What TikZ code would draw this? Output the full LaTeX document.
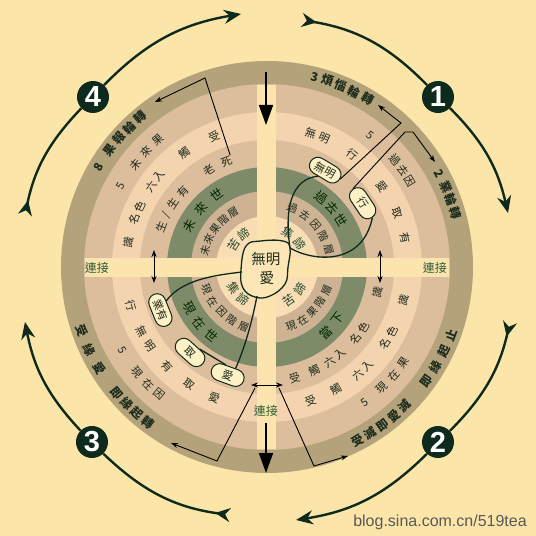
\documentclass[tikz,border=0pt]{standalone}
\usepackage{fontspec}
\newfontfamily\cjk{Noto Sans CJK TC}
\newfontfamily\lsans{Liberation Sans}
\usetikzlibrary{arrows.meta,shapes.misc,calc}
\definecolor{bg}{HTML}{FCE5A9}
\definecolor{ringo}{HTML}{B4A27B}
\definecolor{tanr}{HTML}{DCBD9C}
\definecolor{peach}{HTML}{F4D3AF}
\definecolor{dgreen}{HTML}{7E8B69}
\definecolor{taupe}{HTML}{CDB294}
\definecolor{innerc}{HTML}{F9DDB4}
\definecolor{bandc}{HTML}{FCE4AF}
\definecolor{txt}{HTML}{1E2B1C}
\definecolor{lbl}{HTML}{2F5D36}
\definecolor{ink}{HTML}{0E2A1C}
\definecolor{pillfill}{HTML}{FEF1C6}
\definecolor{blobfill}{HTML}{FCE6B6}
\newcommand\ringtop[4][]{\foreach \a/\t [count=\i] in {#4} {\node[rt,#1,rotate=\a-90] (#3\i) at (\a:#2) {\t};}}
\newcommand\ringbot[4][]{\foreach \a/\t [count=\i] in {#4} {\node[rt,#1,rotate=\a+90] (#3\i) at (\a:#2) {\t};}}
\begin{document}
\begin{tikzpicture}[x=1pt,y=1pt,
  rt/.style={font=\cjk\fontsize{11}{11}\selectfont,text=txt,inner sep=0pt},
  ot/.style={font=\cjk\bfseries\fontsize{12}{12}\selectfont},
  gt/.style={font=\cjk\fontsize{12.5}{12.5}\selectfont,text=black!85!green},
  tt/.style={font=\cjk\fontsize{10.5}{10.5}\selectfont},
  it/.style={font=\cjk\fontsize{12}{12}\selectfont,text=lbl!80!black},
  ct/.style={font=\cjk\fontsize{14.5}{15}\selectfont,text=txt,inner sep=0pt},
  lab/.style={font=\cjk\fontsize{12}{12}\selectfont,text=lbl,inner sep=0pt},
  pill/.style={rounded rectangle,draw=ink,line width=1pt,fill=pillfill,minimum width=36pt,minimum height=17pt,inner sep=1pt,font=\cjk\fontsize{11}{11}\selectfont,text=txt},
  tent/.style={draw=ink,line width=1.3pt},
  lead/.style={draw=black,line width=0.9pt},
  leadtip/.style={-{Stealth[length=7pt,width=5pt]}},
  bigarrow/.style={draw=black,line width=1.8pt,-{Triangle[length=20pt,width=14pt]}},
  numc/.style={circle,fill=ink,minimum size=32pt,inner sep=0pt,text=white,font=\lsans\bfseries\fontsize{29}{29}\selectfont},
  arcline/.style={draw=ink,line width=2.4pt},
  wm/.style={font=\lsans\fontsize{16}{16}\selectfont,text=black!65,inner sep=0pt}]
\useasboundingbox (-267,-269) rectangle (269,267);
\fill[bg] (-267,-269) rectangle (269,267);
% rings
\fill[ringo] (0,0) circle (206);
\fill[tanr] (0,0) circle (183);
\fill[peach] (0,0) circle (155);
\fill[tanr] (0,0) circle (127);
\fill[dgreen] (0,0) circle (100);
\fill[taupe] (0,0) circle (76);
\fill[innerc] (0,0) circle (51);
% cross bands
\fill[bandc] (-9.5,-182) rectangle (9.5,182);
\fill[bandc] (-182,-9.5) rectangle (182,9.5);
% outer ring texts
\ringtop[ot]{196}{oa}{76/3,72/煩,68/惱,63.5/輪,59/轉}
\ringtop[ot]{196}{ob}{28.3/2,24.2/業,20/輪,16/轉}
\ringtop[ot]{196}{oc}{149.5/8,143.5/果,139/報,134.7/輪,130.3/轉}
\ringbot[ot]{196}{od}{199/受,205/緣,211/愛}
\ringbot[ot]{196}{oe}{220/即,224.2/緣,228.4/起,232.6/轉}
\ringbot[ot]{196}{of}{-62.5/受,-58.2/滅,-53.9/即,-49.6/愛,-45.3/滅}
\ringbot[ot]{196}{og}{-35.7/即,-30.6/緣,-25.5/起,-20.4/止}
% ring 2
\ringtop{167}{ra}{52/5,40/過,35.5/去,31/因}
\ringtop{167}{rb}{151/5,142/未,136.3/來,130.6/果}
\ringbot{167}{rc}{210/5,219/現,224.5/在,229.7/因}
\ringbot{167}{rd}{-54/5,-46.4/現,-40.7/在,-35/果}
% ring 3
\ringtop{141}{sa}{72/無,66/明,52.6/行,35/愛,22.7/取,12/有}
\ringtop{141}{sb}{170/識,160/名,154.5/色,145/六,139.8/入,126/觸,112/受}
\ringbot{141}{sc}{196/行,207/無,214/明,225/有,236.6/取,248/愛}
\ringbot{141}{sd}{-72/受,-60.4/觸,-50/六,-44.5/入,-33/名,-27.5/色,-13.8/識}
% ring 4
\node[rt,rotate=69] (q4a) at (159:113) {生};
\node[rt,rotate=62.5] (q4b) at (152.5:113) {/};
\node[rt,rotate=56] (q4c) at (146:113) {生};
\node[rt,rotate=48] (q4d) at (138:113) {有};
\node[rt,rotate=30.8] (q4e) at (120.8:113) {老};
\node[rt,rotate=21] (q4si) at (111:113) {死};
\ringbot{114}{ua}{-76/受,-65.6/觸,-56.5/六,-50/入,-38.6/名,-32/色,-13/識}
% green ring
\ringtop[gt]{88}{ga}{52/過,42/去,32/世}
\ringtop[gt]{88}{gb}{152/未,138.5/來,125/世}
\ringbot[gt]{88}{gc}{208/現,219.5/在,231/世}
\ringbot[gt]{88}{gd}{-48/當,-36.5/下}
% taupe ring
\ringtop[tt]{64}{ha}{66.6/過,53.8/去,41/因,28.2/階,15.4/層}
\ringtop[tt]{64}{hb}{165/未,154.25/來,143.5/果,132.75/階,122/層}
\ringbot[tt]{64}{hc}{200.6/現,212.6/在,224.6/因,236.6/階,248.6/層}
\ringbot[tt]{64}{hd}{-68/現,-56.4/在,-44.8/果,-33.2/階,-21.6/層}
% inner ring
\ringtop[it]{40}{ia}{58/集,35/諦}
\ringtop[it]{40}{ib}{147/苦,125/諦}
\ringbot[it]{40}{ic}{212/集,233/諦}
\ringbot[it]{40}{id}{-56/苦,-34/諦}
% labels
\node[lab] (lj1) at (-170,-1) {連接};
\node[lab] (lj2) at (168,-1) {連接};
\node[lab] (lj3) at (-1,-144) {連接};
% centre blob
\coordinate (bTR) at (23,19);
\coordinate (bL) at (-25,-5);
\coordinate (bB) at (-10,-29);
\draw[tent,fill=blobfill] plot[smooth cycle,tension=0.7] coordinates {(-21,21) (-6,26) (16,26) (23,19) (21,0) (18,-17) (3,-29) (-12,-30) (-24,-21) (-26,-3)};
\node[ct] (cw) at (-1,8) {無明};
\node[ct] (ca) at (0,-11) {愛};
% pills
\node[pill,rotate=-31] (pw1) at (59:113) {無明};
\node[pill,rotate=-56.3] (pg1) at (33.7:115) {行};
\node[pill,rotate=-68] (pq1) at (202:115) {業有};
\node[pill,rotate=-42] (pt1) at (228:115) {取};
\node[pill,rotate=-20] (pa1) at (250:115) {愛};
% tentacles
\draw[tent] (bTR) .. controls (17,60) and (25,88) .. (pw1.250);
\draw[tent] (bTR) .. controls (45,6) and (95,0) .. (pg1.east);
\draw[tent] (bL) .. controls (-50,-8) and (-85,-12) .. (pq1.125);
\draw[tent] (bB) .. controls (-15,-55) and (-22,-80) .. (pa1.60);
\draw[tent] (pt1.60) -- (pa1.120);
% leader lines
\coordinate (k1) at (134,144); \coordinate (a1) at (111,162);
\coordinate (k2) at (138,135); \coordinate (k3) at (146,135); \coordinate (a2) at (168,105);
\coordinate (k4) at (-62,189); \coordinate (a4) at (-112,165);
\draw[lead,leadtip] (pw1.east) -- (k1) -- (a1);
\draw[lead,leadtip] (pg1.west) -- (k2) -- (k3) -- (a2);
\draw[lead,leadtip] (q4si.north east) -- (k4) -- (a4);
\coordinate (dl) at (-16,-118); \coordinate (dr) at (16,-118);
\draw[lead,{Stealth[length=7pt,width=5pt]}-{Stealth[length=7pt,width=5pt]}] (dl) -- (dr);
\coordinate (bl1) at (-12,-121); \coordinate (bl2) at (-50,-194); \coordinate (bl3) at (-96,-176);
\coordinate (br1) at (12,-121); \coordinate (br2) at (47,-199); \coordinate (br3) at (81,-189);
\draw[lead,leadtip] (bl1) -- (bl2) -- (bl3);
\draw[lead,leadtip] (br1) -- (br2) -- (br3);
\coordinate (vl1) at (-113,17); \coordinate (vl2) at (-113,-16);
\coordinate (vr1) at (113,17); \coordinate (vr2) at (113,-16);
\draw[lead,{Stealth[length=7pt,width=5pt]}-{Stealth[length=7pt,width=5pt]}] (vl1) -- (vl2);
\draw[lead,{Stealth[length=7pt,width=5pt]}-{Stealth[length=7pt,width=5pt]}] (vr1) -- (vr2);
% big arrows
\coordinate (ta1) at (-1,195); \coordinate (ta2) at (-1,142);
\coordinate (ba1) at (-1,-156); \coordinate (ba2) at (-1,-206);
\draw[bigarrow] (ta1) -- (ta2);
\draw[bigarrow] (ba1) -- (ba2);
% numbered circles
\node[numc] (c1) at (171,170) {1};
\node[numc] (c2) at (171,-175) {2};
\node[numc] (c3) at (-175,-175) {3};
\node[numc] (c4) at (-174,170) {4};
% outer arcs
\coordinate (tT) at (-26,253); \coordinate (sT) at (35,247);
\coordinate (tR) at (241,54); \coordinate (sR) at (243,-55);
\coordinate (tB) at (29,-253); \coordinate (sB) at (-37,-248);
\coordinate (tL) at (-242,-55); \coordinate (sL) at (-242,52);
\draw[arcline,-{Stealth[length=17pt,width=14pt]}] (c4) to[bend left=18] (tT);
\draw[arcline,{Stealth[length=15pt,width=14pt,reversed]}-] (sT) to[bend left=18] (c1);
\draw[arcline,-{Stealth[length=17pt,width=14pt]}] (c1) to[bend left=16] (tR);
\draw[arcline,{Stealth[length=15pt,width=14pt,reversed]}-] (sR) to[bend left=16] (c2);
\draw[arcline,-{Stealth[length=17pt,width=14pt]}] (c2) to[bend left=18] (tB);
\draw[arcline,{Stealth[length=15pt,width=14pt,reversed]}-] (sB) to[bend left=18] (c3);
\draw[arcline,-{Stealth[length=17pt,width=14pt]}] (c3) to[bend left=16] (tL);
\draw[arcline,{Stealth[length=15pt,width=14pt,reversed]}-] (sL) to[bend left=16] (c4);
% watermark
\node[wm] (wmk) at (173,-255) {blog.sina.com.cn/519tea};
\end{tikzpicture}
\end{document}
